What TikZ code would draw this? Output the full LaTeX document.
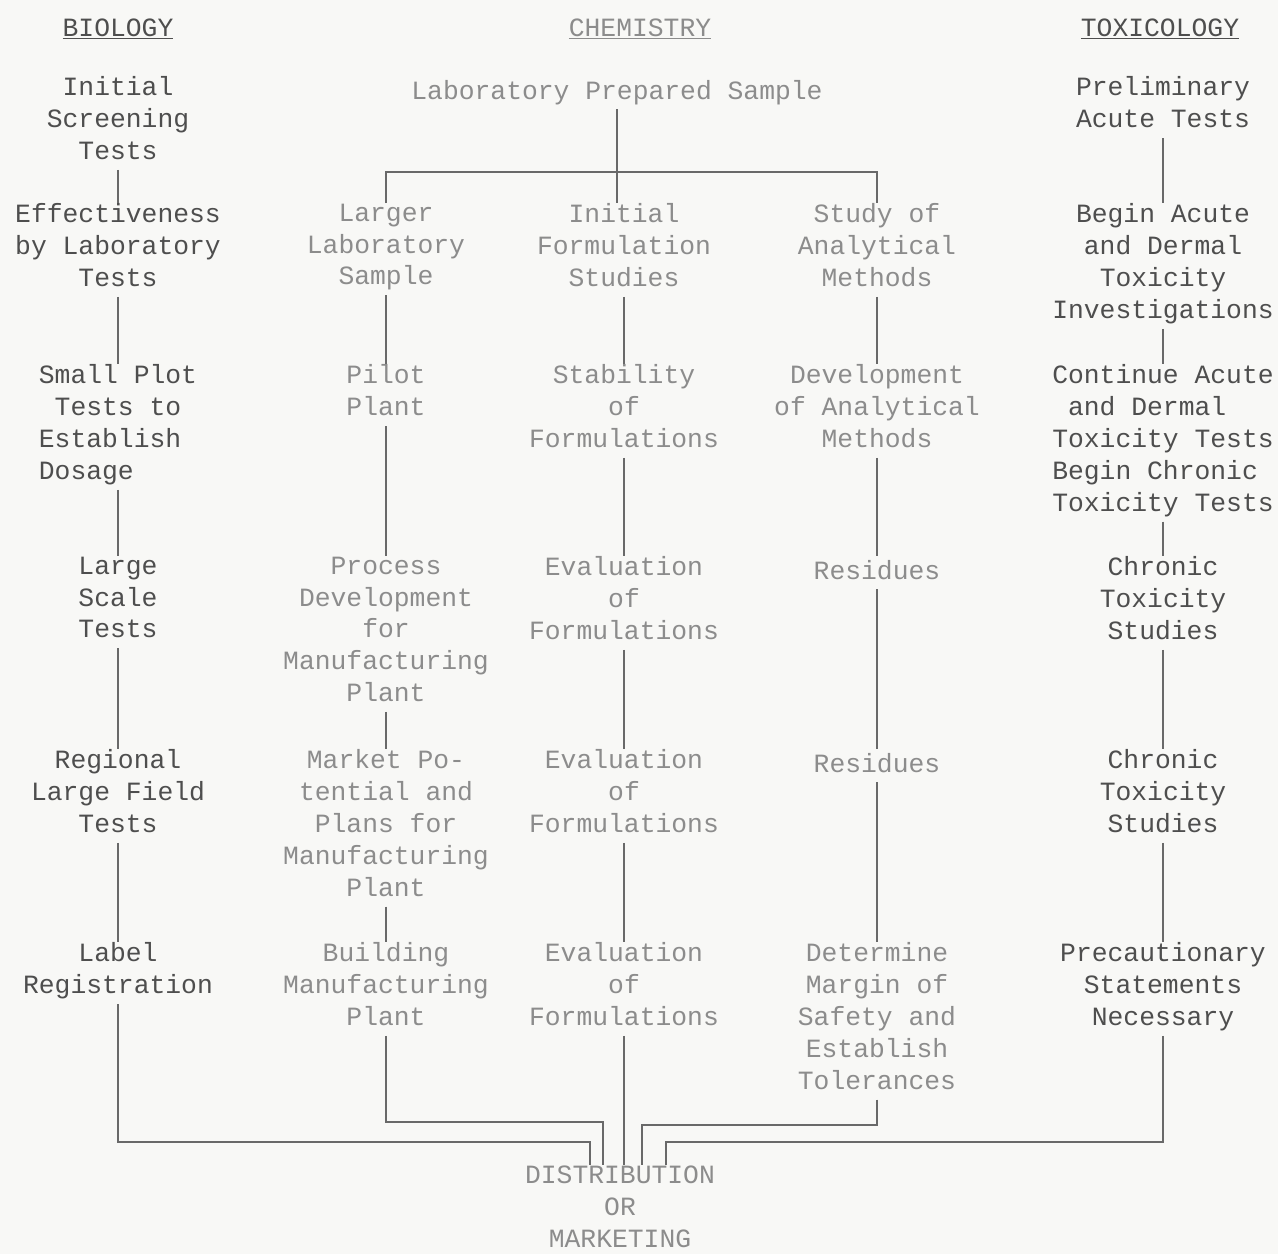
\documentclass[tikz,border=0pt]{standalone}
\usepackage{fontspec}
\setmonofont{Liberation Mono}
\definecolor{paper}{RGB}{248,248,246}
\definecolor{inkdark}{RGB}{78,78,78}
\definecolor{inklight}{RGB}{140,140,140}
\definecolor{linegray}{RGB}{105,105,105}

\begin{document}
\begin{tikzpicture}[x=0.02cm,y=-0.02cm,line width=0.9pt,
  box/.style={anchor=north,inner sep=0pt,align=center,
    font=\ttfamily\fontsize{15}{18.14}\selectfont,
    execute at begin node=\strut,execute at end node=\strut},
  bio node/.style={box,text=inkdark},
  chem node/.style={box,text=inklight},
  link/.style={draw=linegray}]
  \fill[paper] (0,0) rectangle (1278,1254);
  \useasboundingbox (0,0) rectangle (1278,1254);

  % headings
  \node[bio node] (hbio) at (118,13) {\underline{BIOLOGY}};
  \node[chem node] (hchem) at (640,13) {\underline{CHEMISTRY}};
  \node[bio node] (htox) at (1160,13) {\underline{TOXICOLOGY}};

  % biology
  \node[bio node] (b1) at (118,76) {Initial\\Screening\\Tests};
  \node[bio node] (b2) at (118,203) {Effectiveness\\by Laboratory\\Tests};
  \node[bio node,align=left] (b3) at (118,364) {Small Plot\\\hphantom{T}Tests to\\Establish\\Dosage};
  \node[bio node] (b4) at (118,556) {Large\\Scale\\Tests};
  \node[bio node] (b5) at (118,749) {Regional\\Large Field\\Tests};
  \node[bio node] (b6) at (118,942) {Label\\Registration};

  % chemistry
  \node[chem node] (lab) at (617,76) {Laboratory Prepared Sample};
  \node[chem node] (c1) at (386,203) {Larger\\Laboratory\\Sample};
  \node[chem node] (c2) at (624,203) {Initial\\Formulation\\Studies};
  \node[chem node] (c3) at (877,203) {Study of\\Analytical\\Methods};
  \node[chem node] (c4) at (386,364) {Pilot\\Plant};
  \node[chem node] (c5) at (624,364) {Stability\\of\\Formulations};
  \node[chem node] (c6) at (877,364) {Development\\of Analytical\\Methods};
  \node[chem node] (c7) at (386,556) {Process\\Development\\for\\Manufacturing\\Plant};
  \node[chem node] (c8) at (624,556) {Evaluation\\of\\Formulations};
  \node[chem node] (c9) at (877,556) {Residues};
  \node[chem node] (c10) at (386,749) {Market Po-\\tential and\\Plans for\\Manufacturing\\Plant};
  \node[chem node] (c11) at (624,749) {Evaluation\\of\\Formulations};
  \node[chem node] (c12) at (877,749) {Residues};
  \node[chem node] (c13) at (386,942) {Building\\Manufacturing\\Plant};
  \node[chem node] (c14) at (624,942) {Evaluation\\of\\Formulations};
  \node[chem node] (c15) at (877,942) {Determine\\Margin of\\Safety and\\Establish\\Tolerances};

  % toxicology
  \node[bio node] (t1) at (1163,76) {Preliminary\\Acute Tests};
  \node[bio node] (t2) at (1163,203) {Begin Acute\\and Dermal\\Toxicity\\Investigations};
  \node[bio node,align=left] (t3) at (1163,364) {Continue Acute\\\hphantom{a}and Dermal\\Toxicity Tests\\Begin Chronic\\Toxicity Tests};
  \node[bio node] (t4) at (1163,556) {Chronic\\Toxicity\\Studies};
  \node[bio node] (t5) at (1163,749) {Chronic\\Toxicity\\Studies};
  \node[bio node] (t6) at (1163,942) {Precautionary\\Statements\\Necessary};

  \node[chem node] (dist) at (620,1165) {DISTRIBUTION\\OR\\MARKETING};

  % columns
  \path[link]
    (b1) edge (b2)
    (b2) edge (b3)
    (b3) edge (b4)
    (b4) edge (b5)
    (b5) edge (b6);
  \path[link]
    (c1) edge (c4)
    (c4) edge (c7)
    (c7) edge (c10)
    (c10) edge (c13)
    (c2) edge (c5)
    (c5) edge (c8)
    (c8) edge (c11)
    (c11) edge (c14)
    (c3) edge (c6)
    (c6) edge (c9)
    (c9) edge (c12)
    (c12) edge (c15);
  \path[link]
    (t1) edge (t2)
    (t2) edge (t3)
    (t3) edge (t4)
    (t4) edge (t5)
    (t5) edge (t6);

  % split below the sample
  \coordinate (split) at (617,172);
  \draw[link] (lab.south) -- (lab.south |- c2.north);
  \draw[link] (c1) |- (split) -| (c3);

  % joins into distribution
  \coordinate (bioJ) at (590,1142);
  \coordinate (bldJ) at (603,1122);
  \coordinate (detJ) at (642,1125);
  \coordinate (toxJ) at (666,1142);
  \draw[link] (b6) |- (bioJ) -- (bioJ |- dist.north);
  \draw[link] (c13) |- (bldJ) -- (bldJ |- dist.north);
  \draw[link] (c14) -- (c14 |- dist.north);
  \draw[link] (c15) |- (detJ) -- (detJ |- dist.north);
  \draw[link] (t6) |- (toxJ) -- (toxJ |- dist.north);
\end{tikzpicture}
\end{document}
